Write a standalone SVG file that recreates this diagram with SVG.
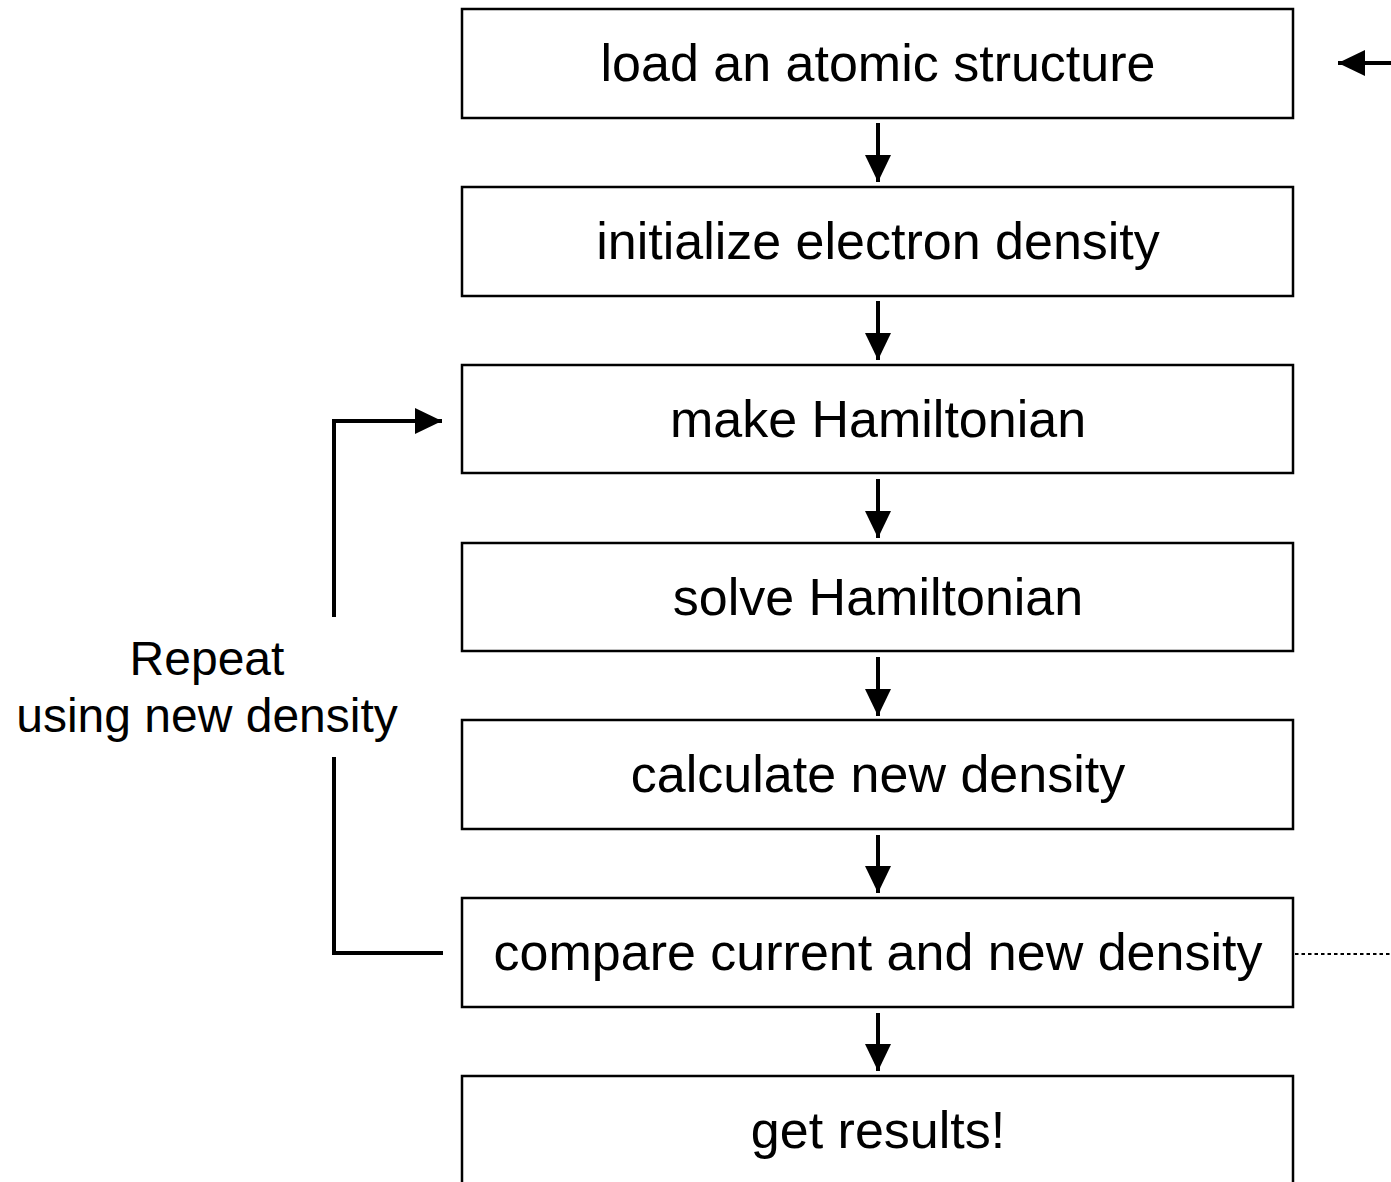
<svg xmlns="http://www.w3.org/2000/svg" width="1391" height="1182" viewBox="0 0 1391 1182">
<style>
.box{fill:#fff;stroke:#000;stroke-width:2.5}
.t{font-family:"Liberation Sans",Arial,sans-serif;font-size:52px;fill:#000;text-anchor:middle}
.lt{font-family:"Liberation Sans",Arial,sans-serif;font-size:48px;fill:#000;text-anchor:middle}
.c{fill:none;stroke:#000;stroke-width:4}
.d{fill:none;stroke:#000;stroke-width:1.8;stroke-dasharray:3.5 3}
</style>
<defs>
<marker id="ah" viewBox="0 0 27 26" refX="27" refY="13" markerWidth="27" markerHeight="26" markerUnits="userSpaceOnUse" orient="auto">
<path d="M0 0L27 13L0 26Z" fill="#000"/>
</marker>
</defs>
<rect width="1391" height="1182" fill="#fff"/>
<g id="n1"><rect class="box" x="462" y="9" width="831" height="109"/><text class="t" x="878" y="81">load an atomic structure</text></g>
<g id="n2"><rect class="box" x="462" y="187" width="831" height="109"/><text class="t" x="878" y="259">initialize electron density</text></g>
<g id="n3"><rect class="box" x="462" y="365" width="831" height="108"/><text class="t" x="878" y="437">make Hamiltonian</text></g>
<g id="n4"><rect class="box" x="462" y="543" width="831" height="108"/><text class="t" x="878" y="615">solve Hamiltonian</text></g>
<g id="n5"><rect class="box" x="462" y="720" width="831" height="109"/><text class="t" x="878" y="792">calculate new density</text></g>
<g id="n6"><rect class="box" x="462" y="898" width="831" height="109"/><text class="t" x="878" y="970">compare current and new density</text></g>
<g id="n7"><rect class="box" x="462" y="1076" width="831" height="120"/><text class="t" x="878" y="1148">get results!</text></g>
<g id="label"><text class="lt" x="207" y="675">Repeat</text><text class="lt" x="207" y="732">using new density</text></g>
<g id="connectors">
<line class="c" x1="878" y1="123" x2="878" y2="182" marker-end="url(#ah)"/>
<line class="c" x1="878" y1="301" x2="878" y2="360" marker-end="url(#ah)"/>
<line class="c" x1="878" y1="479" x2="878" y2="538" marker-end="url(#ah)"/>
<line class="c" x1="878" y1="657" x2="878" y2="716" marker-end="url(#ah)"/>
<line class="c" x1="878" y1="835" x2="878" y2="893" marker-end="url(#ah)"/>
<line class="c" x1="878" y1="1013" x2="878" y2="1071" marker-end="url(#ah)"/>
<polyline class="c" points="334,617 334,421 442,421" marker-end="url(#ah)"/>
<polyline class="c" points="334,757 334,953 443,953"/>
<line class="c" x1="1391" y1="63" x2="1338" y2="63" marker-end="url(#ah)"/>
<line class="d" x1="1295" y1="954" x2="1391" y2="954"/>
</g>
</svg>
